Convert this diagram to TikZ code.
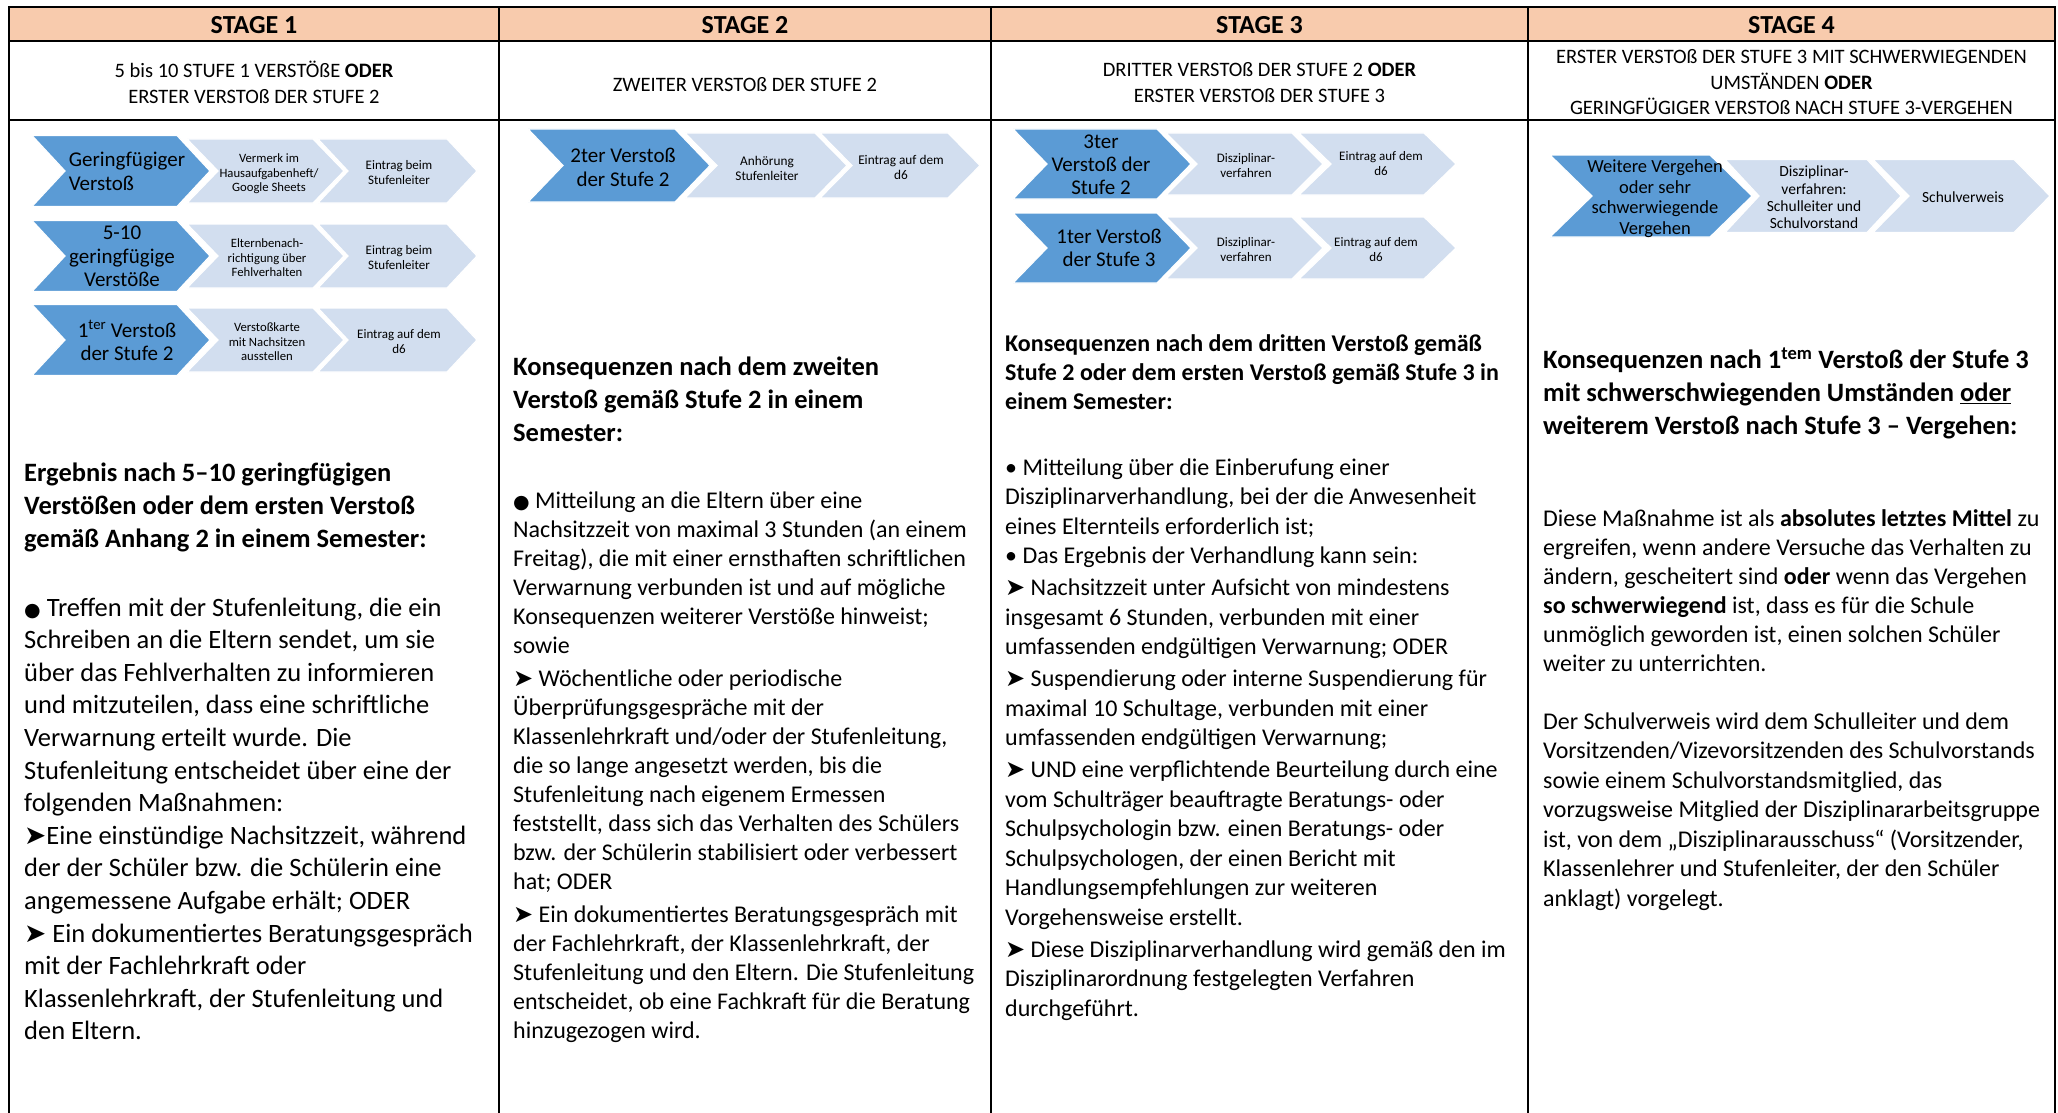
\documentclass[tikz,border=0pt]{standalone}
\usepackage{fontspec}
\setmainfont{Carlito}
\newfontfamily\symf{DejaVu Sans}
\definecolor{hdr}{HTML}{F8CBAD}
\definecolor{chdark}{HTML}{5B9BD5}
\definecolor{chlight}{HTML}{D2DEEF}
\newcommand\arr{{\symf ➤}}
\newcommand\bul{{\symf\fontsize{19}{19}\selectfont ●}}
\newcommand\chevshape[6]{%
  \path[#6] (#1,#3-#4) -- (#2,#3-#4) -- (#2+#5,#3) -- (#2,#3+#4) -- (#1,#3+#4) -- (#1+#5,#3) -- cycle;}
\tikzset{
  grid/.style={line width=2.6pt, draw=black},
  dk/.style={fill=chdark, draw=white, line width=1.2pt},
  lt/.style={fill=chlight, draw=white, line width=1.2pt},
  txt/.style={inner sep=0pt, align=left, anchor=north west, execute at begin node=\strut},
  ctxt/.style={inner sep=0pt, align=center, execute at begin node=\strut, execute at end node=\strut},
  ltxt/.style={inner sep=0pt, align=left, execute at begin node=\strut, execute at end node=\strut},
  title/.style={inner sep=0pt, font=\bfseries\fontsize{26}{30}\selectfont},
  hrow/.style={ctxt, font=\fontsize{20.5}{26}\selectfont},
  dkf/.style={font=\fontsize{21}{23.5}\selectfont},
  ltf/.style={font=\fontsize{13}{15}\selectfont},
}
\begin{document}
\begin{tikzpicture}[x=1pt,y=-1pt]
\useasboundingbox (0,0) rectangle (2058,1113);
% header fill and grid
\fill[hdr] (9,7) rectangle (2055,41);
\draw[grid] (9,1113) -- (9,7) -- (2055,7) -- (2055,1113);
\draw[grid] (9,41) -- (2055,41);
\draw[grid] (9,120) -- (2055,120);
\draw[grid] (499,7) -- (499,1113);
\draw[grid] (991,7) -- (991,1113);
\draw[grid] (1528,7) -- (1528,1113);
% titles
\node[title] (t1) at (254,25) {STAGE 1};
\node[title] (t2) at (745,25) {STAGE 2};
\node[title] (t3) at (1259.5,25) {STAGE 3};
\node[title] (t4) at (1791.5,25) {STAGE 4};
% header row 2
\node[hrow] (h1) at (254,86) {5 bis 10 STUFE 1 VERSTÖßE \textbf{ODER}\\ERSTER VERSTOß DER STUFE 2};
\node[hrow] (h2) at (745,86) {ZWEITER VERSTOß DER STUFE 2};
\node[hrow] (h3) at (1259.5,86) {DRITTER VERSTOß DER STUFE 2 \textbf{ODER}\\ERSTER VERSTOß DER STUFE 3};
\node[hrow, font=\fontsize{20.5}{25.5}\selectfont] (h4) at (1791.5,86) {ERSTER VERSTOß DER STUFE 3 MIT SCHWERWIEGENDEN\\UMSTÄNDEN \textbf{ODER}\\GERINGFÜGIGER VERSTOß NACH STUFE 3-VERGEHEN};

% ===== Stage 1 chevrons =====
\foreach \c in {171,256,340}{
  \chevshape{32}{177}{\c}{35.5}{33}{dk}
  \chevshape{187}{313}{\c}{32}{31}{lt}
  \chevshape{318}{447}{\c}{32}{30}{lt}
}
\node[ltxt, dkf] (a1) at (127,175) {Geringfügiger\\Verstoß};
\node[ctxt, font=\fontsize{12.7}{14.5}\selectfont] (a2) at (269,175) {Vermerk im\\Hausaufgabenheft/\\Google Sheets};
\node[ctxt, ltf] (a3) at (399,175) {Eintrag beim\\Stufenleiter};
\node[ctxt, dkf] (b1) at (122,260) {5-10\\geringfügige\\Verstöße};
\node[ctxt, font=\fontsize{12.7}{14.5}\selectfont] (b2) at (267,260) {Elternbenach-\\richtigung über\\Fehlverhalten};
\node[ctxt, ltf] (b3) at (399,260) {Eintrag beim\\Stufenleiter};
\node[ctxt, dkf] (c1) at (127,344) {1\textsuperscript{ter} Verstoß\\der Stufe 2};
\node[ctxt, font=\fontsize{12.7}{14.5}\selectfont] (c2) at (267,344) {Verstoßkarte\\mit Nachsitzen\\ausstellen};
\node[ctxt, ltf] (c3) at (399,344) {Eintrag auf dem\\d6};

% ===== Stage 2 chevrons =====
\chevshape{528}{675}{165.5}{36.5}{35}{dk}
\chevshape{685}{815}{165.5}{32.5}{32}{lt}
\chevshape{820}{948}{165.5}{32.5}{32}{lt}
\node[ctxt, dkf] (d1) at (623,171) {2ter Verstoß\\der Stufe 2};
\node[ctxt, font=\fontsize{13.3}{15}\selectfont] (d2) at (767,171) {Anhörung\\Stufenleiter};
\node[ctxt, font=\fontsize{13.3}{15}\selectfont] (d3) at (901,169.5) {Eintrag auf dem\\d6};

% ===== Stage 3 chevrons =====
\foreach \c in {164,248}{
  \chevshape{1013}{1157}{\c}{35}{34}{dk}
  \chevshape{1166}{1292}{\c}{31}{31}{lt}
  \chevshape{1299}{1424}{\c}{31}{32}{lt}
}
\node[ctxt, font=\fontsize{21}{23}\selectfont] (e1) at (1101,168) {3ter\\Verstoß der\\Stufe 2};
\node[ctxt, ltf] (e2) at (1246,168) {Disziplinar-\\verfahren};
\node[ctxt, ltf] (e3) at (1381,166) {Eintrag auf dem\\d6};
\node[ctxt, font=\fontsize{21}{23}\selectfont] (f1) at (1109,251) {1ter Verstoß\\der Stufe 3};
\node[ctxt, ltf] (f2) at (1246,252) {Disziplinar-\\verfahren};
\node[ctxt, ltf] (f3) at (1376,252) {Eintrag auf dem\\d6};

% ===== Stage 4 chevrons =====
\chevshape{1550}{1710}{196}{41}{42}{dk}
\chevshape{1725}{1867}{196}{36.5}{34}{lt}
\chevshape{1873}{2014}{196}{36.5}{36}{lt}
\node[ctxt, font=\fontsize{18.5}{20.5}\selectfont] (g1) at (1655,200) {Weitere Vergehen\\oder sehr\\schwerwiegende\\Vergehen};
\node[ctxt, font=\fontsize{15.5}{17.3}\selectfont] (g2) at (1814,200) {Disziplinar-\\verfahren:\\Schulleiter und\\Schulvorstand};
\node[ctxt, font=\fontsize{15.5}{17.3}\selectfont] (g3) at (1963,199) {Schulverweis};

% ===== Stage 1 text =====
\node[txt, font=\bfseries\fontsize{26.5}{33}\selectfont] (s1h) at (24,462.5) {Ergebnis nach 5–10 geringfügigen\\Verstößen oder dem ersten Verstoß\\gemäß Anhang 2 in einem Semester:};
\node[txt, font=\fontsize{26.5}{32.6}\selectfont] (s1b) at (24,597.5) {\bul{} Treffen mit der Stufenleitung, die ein\\Schreiben an die Eltern sendet, um sie\\über das Fehlverhalten zu informieren\\und mitzuteilen, dass eine schriftliche\\Verwarnung erteilt wurde. Die\\Stufenleitung entscheidet über eine der\\folgenden Maßnahmen:\\\arr Eine einstündige Nachsitzzeit, während\\der der Schüler bzw. die Schülerin eine\\angemessene Aufgabe erhält; ODER\\\arr{} Ein dokumentiertes Beratungsgespräch\\mit der Fachlehrkraft oder\\Klassenlehrkraft, der Stufenleitung und\\den Eltern.};

% ===== Stage 2 text =====
\node[txt, font=\bfseries\fontsize{26.5}{33}\selectfont] (s2h) at (513,356.5) {Konsequenzen nach dem zweiten\\Verstoß gemäß Stufe 2 in einem\\Semester:};
\node[txt, font=\fontsize{24}{29}\selectfont] (s2b) at (513,492) {\bul{} Mitteilung an die Eltern über eine\\Nachsitzzeit von maximal 3 Stunden (an einem\\Freitag), die mit einer ernsthaften schriftlichen\\Verwarnung verbunden ist und auf mögliche\\Konsequenzen weiterer Verstöße hinweist;\\sowie\\[4pt]\arr{} Wöchentliche oder periodische\\Überprüfungsgespräche mit der\\Klassenlehrkraft und/oder der Stufenleitung,\\die so lange angesetzt werden, bis die\\Stufenleitung nach eigenem Ermessen\\feststellt, dass sich das Verhalten des Schülers\\bzw. der Schülerin stabilisiert oder verbessert\\hat; ODER\\[4pt]\arr{} Ein dokumentiertes Beratungsgespräch mit\\der Fachlehrkraft, der Klassenlehrkraft, der\\Stufenleitung und den Eltern. Die Stufenleitung\\entscheidet, ob eine Fachkraft für die Beratung\\hinzugezogen wird.};

% ===== Stage 3 text =====
\node[txt, font=\bfseries\fontsize{24}{29}\selectfont] (s3h) at (1005,334) {Konsequenzen nach dem dritten Verstoß gemäß\\Stufe 2 oder dem ersten Verstoß gemäß Stufe 3 in\\einem Semester:};
\node[txt, font=\fontsize{24}{29.5}\selectfont] (s3b) at (1005,458.5) {• Mitteilung über die Einberufung einer\\Disziplinarverhandlung, bei der die Anwesenheit\\eines Elternteils erforderlich ist;\\• Das Ergebnis der Verhandlung kann sein:\\[2.5pt]\arr{} Nachsitzzeit unter Aufsicht von mindestens\\insgesamt 6 Stunden, verbunden mit einer\\umfassenden endgültigen Verwarnung; ODER\\[2.5pt]\arr{} Suspendierung oder interne Suspendierung für\\maximal 10 Schultage, verbunden mit einer\\umfassenden endgültigen Verwarnung;\\[2.5pt]\arr{} UND eine verpflichtende Beurteilung durch eine\\vom Schulträger beauftragte Beratungs- oder\\Schulpsychologin bzw. einen Beratungs- oder\\Schulpsychologen, der einen Bericht mit\\Handlungsempfehlungen zur weiteren\\Vorgehensweise erstellt.\\[2.5pt]\arr{} Diese Disziplinarverhandlung wird gemäß den im\\Disziplinarordnung festgelegten Verfahren\\durchgeführt.};

% ===== Stage 4 text =====
\node[txt, font=\bfseries\fontsize{26.5}{33}\selectfont] (s4h) at (1543,347.5) {Konsequenzen nach 1\textsuperscript{tem} Verstoß der Stufe 3\\mit schwerschwiegenden Umständen \underline{oder}\\weiterem Verstoß nach Stufe 3 – Vergehen:};
\node[txt, font=\fontsize{24}{29}\selectfont] (s4a) at (1543,509) {Diese Maßnahme ist als \textbf{absolutes letztes Mittel} zu\\ergreifen, wenn andere Versuche das Verhalten zu\\ändern, gescheitert sind \textbf{oder} wenn das Vergehen\\\textbf{so schwerwiegend} ist, dass es für die Schule\\unmöglich geworden ist, einen solchen Schüler\\weiter zu unterrichten.};
\node[txt, font=\fontsize{24}{29.5}\selectfont] (s4b) at (1543,712.5) {Der Schulverweis wird dem Schulleiter und dem\\Vorsitzenden/Vizevorsitzenden des Schulvorstands\\sowie einem Schulvorstandsmitglied, das\\vorzugsweise Mitglied der Disziplinararbeitsgruppe\\ist, von dem „Disziplinarausschuss“ (Vorsitzender,\\Klassenlehrer und Stufenleiter, der den Schüler\\anklagt) vorgelegt.};
\end{tikzpicture}
\end{document}
